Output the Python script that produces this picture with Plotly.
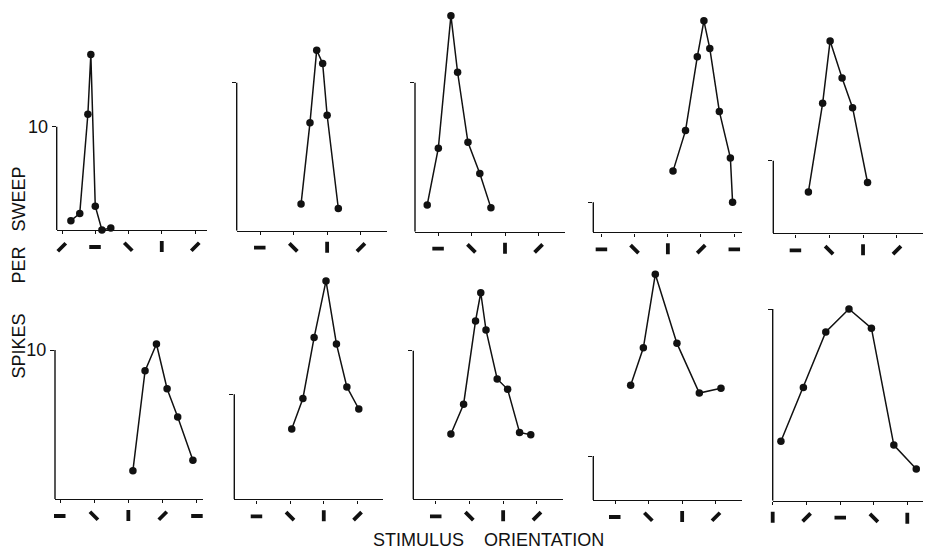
import math
import plotly.graph_objects as go

# ---------------- data (orientation in degrees, spikes per sweep) ----------------
orient_1 = [-33, -21, -10, -6, 0, 9, 21]
spikes_1 = [0.9, 1.6, 11.2, 17.0, 2.3, 0.0, 0.2]
orient_2 = [55, 67, 76, 84, 90, 105]
spikes_2 = [1.8, 7.3, 12.2, 11.3, 7.8, 1.5]
orient_3 = [-15, 0, 17, 26, 40, 56, 71]
spikes_3 = [1.8, 5.6, 14.5, 10.7, 6.0, 3.9, 1.6]
orient_4 = [97, 114, 130, 139, 147, 160, 175, 178]
spikes_4 = [20.4, 33.9, 58.5, 70.5, 61.3, 40.3, 24.8, 10.0]
orient_5 = [17, 36, 46, 62, 76, 96]
spikes_5 = [5.7, 17.9, 26.5, 21.4, 17.3, 7.0]
orient_6 = [96, 112, 127, 141, 155, 175]
spikes_6 = [1.9, 8.6, 10.4, 7.4, 5.5, 2.6]
orient_7 = [47, 62, 77, 93, 107, 121, 137]
spikes_7 = [6.7, 9.6, 15.4, 20.8, 14.8, 10.7, 8.6]
orient_8 = [20, 37, 53, 60, 67, 82, 96, 112, 127]
spikes_8 = [4.4, 6.4, 12.0, 13.9, 11.4, 8.1, 7.4, 4.5, 4.35]
orient_9 = [21, 38, 54, 83, 113, 142]
spikes_9 = [26.1, 34.6, 51.3, 35.6, 24.3, 25.4]
orient_10 = [101, 131, 161, 192, 222, 252, 282]
spikes_10 = [3.1, 5.9, 8.8, 10.0, 9.0, 2.9, 1.65]

# tick orientations (degrees; 0 = horizontal bar, 45 = "\", 90 = "|", 135 = "/")
ticks_1 = [-45, 0, 45, 90, 135]
ticks_2 = [0, 45, 90, 135]
ticks_3 = [0, 45, 90, 135]
ticks_4 = [0, 45, 90, 135, 180]
ticks_5 = [0, 45, 90, 135]
ticks_6 = [0, 45, 90, 135, 180]
ticks_7 = [0, 45, 90, 135]
ticks_8 = [0, 45, 90, 135]
ticks_9 = [0, 45, 90, 135]
ticks_10 = [90, 135, 180, 225, 270]

scale_value = 10  # the calibration level marked on every vertical axis
scale_label_panels = [1, 6]

y_title = "SPIKES\u00a0\u00a0\u00a0\u00a0\u00a0\u00a0PER\u00a0\u00a0\u00a0SWEEP"
x_title = "STIMULUS\u00a0\u00a0\u00a0\u00a0ORIENTATION"

orients = [orient_1, orient_2, orient_3, orient_4, orient_5,
           orient_6, orient_7, orient_8, orient_9, orient_10]
spikes = [spikes_1, spikes_2, spikes_3, spikes_4, spikes_5,
          spikes_6, spikes_7, spikes_8, spikes_9, spikes_10]
ticks = [ticks_1, ticks_2, ticks_3, ticks_4, ticks_5,
         ticks_6, ticks_7, ticks_8, ticks_9, ticks_10]

# ---------------- layout geometry (pixels) ----------------
W, H = 938, 555
# (left px, right px, baseline px, px of the "10" level)
geom = [
    (56.7, 206.7, 230.0, 126.7),
    (236.7, 386.7, 230.7, 82.7),
    (415.0, 565.0, 231.7, 82.7),
    (593.3, 741.7, 232.3, 202.3),
    (773.3, 922.7, 233.3, 160.7),
    (55.0, 203.3, 499.0, 350.0),
    (234.3, 383.3, 499.3, 394.3),
    (413.3, 562.7, 499.3, 350.7),
    (593.3, 741.7, 500.0, 456.0),
    (772.7, 923.3, 500.7, 309.0),
]
xranges = [(-52.2, 150.8), (-31.3, 169.9), (-31.5, 171.0), (-11.4, 190.4), (-29.9, 169.7),
           (-6.6, 188.7), (-30.1, 169.9), (-30.4, 169.8), (-29.1, 169.8), (90.0, 291.4)]
row_top = {0: 4.0, 1: 262.0}

INK = "#111111"
FONT = "Liberation Sans, Arial, Helvetica, sans-serif"
GLYPH_LEN = 12
GLYPH_W = 3.8
GLYPH_DROP = 17

fig = go.Figure()
layout_axes = {}
shapes = []
annotations = []

for i in range(10):
    n = i + 1
    xs = "" if n == 1 else str(n)
    xl, xr, base, y10 = geom[i]
    top = row_top[0 if i < 5 else 1]
    ymax = scale_value * (base - top) / (base - y10)

    fig.add_trace(go.Scatter(
        x=orients[i], y=spikes[i], mode="lines+markers",
        line=dict(color=INK, width=1.5),
        marker=dict(color=INK, size=7.5),
        cliponaxis=False, xaxis="x" + xs, yaxis="y" + xs,
        hoverinfo="skip",
    ))

    layout_axes["xaxis" + xs] = dict(
        domain=[xl / W, xr / W], range=list(xranges[i]), anchor="y" + xs,
        showline=True, linecolor=INK, linewidth=1.4,
        ticks="outside", ticklen=3, tickwidth=1.1, tickcolor=INK,
        tickvals=ticks[i], showticklabels=False,
        showgrid=False, zeroline=False, fixedrange=True,
    )
    layout_axes["yaxis" + xs] = dict(
        domain=[(H - base) / H, (H - top) / H], range=[0, ymax], anchor="x" + xs,
        showline=False, ticks="outside", ticklen=4, tickwidth=1.3, tickcolor=INK,
        tickvals=[scale_value], ticktext=[str(scale_value)],
        showticklabels=(n in scale_label_panels),
        tickfont=dict(family=FONT, size=18, color=INK),
        showgrid=False, zeroline=False, fixedrange=True,
    )
    # vertical calibration axis from 0 up to 10
    shapes.append(dict(
        type="line", xref="x" + xs + " domain", yref="y" + xs,
        x0=0, x1=0, y0=0, y1=scale_value,
        line=dict(color=INK, width=1.4),
    ))
    # orientation glyphs below the ticks
    for t in ticks[i]:
        th = math.radians(t)
        ax = GLYPH_LEN * math.cos(th)
        ay = GLYPH_LEN * math.sin(th)
        annotations.append(dict(
            x=t, y=0, xref="x" + xs, yref="y" + xs,
            text=" ", font=dict(size=1), borderpad=0,
            showarrow=True, arrowhead=0, arrowwidth=GLYPH_W, arrowcolor=INK,
            ax=ax, ay=ay, xshift=-ax / 2, yshift=ay / 2 - GLYPH_DROP,
        ))

annotations.append(dict(
    text=y_title, x=18.5 / W, y=(H - 273) / H, xref="paper", yref="paper",
    textangle=-90, showarrow=False, xanchor="center", yanchor="middle",
    font=dict(family=FONT, size=18, color=INK),
))
annotations.append(dict(
    text=x_title, x=488 / W, y=(H - 540) / H, xref="paper", yref="paper",
    showarrow=False, xanchor="center", yanchor="middle",
    font=dict(family=FONT, size=18, color=INK),
))

fig.update_layout(
    width=W, height=H, margin=dict(l=0, r=0, t=0, b=0),
    paper_bgcolor="white", plot_bgcolor="white", showlegend=False,
    shapes=shapes, annotations=annotations, **layout_axes,
)

fig.write_html(
    "out.html",
    config={"displayModeBar": False},
    post_script="document.body.style.margin='0';document.body.style.overflow='hidden';",
)
